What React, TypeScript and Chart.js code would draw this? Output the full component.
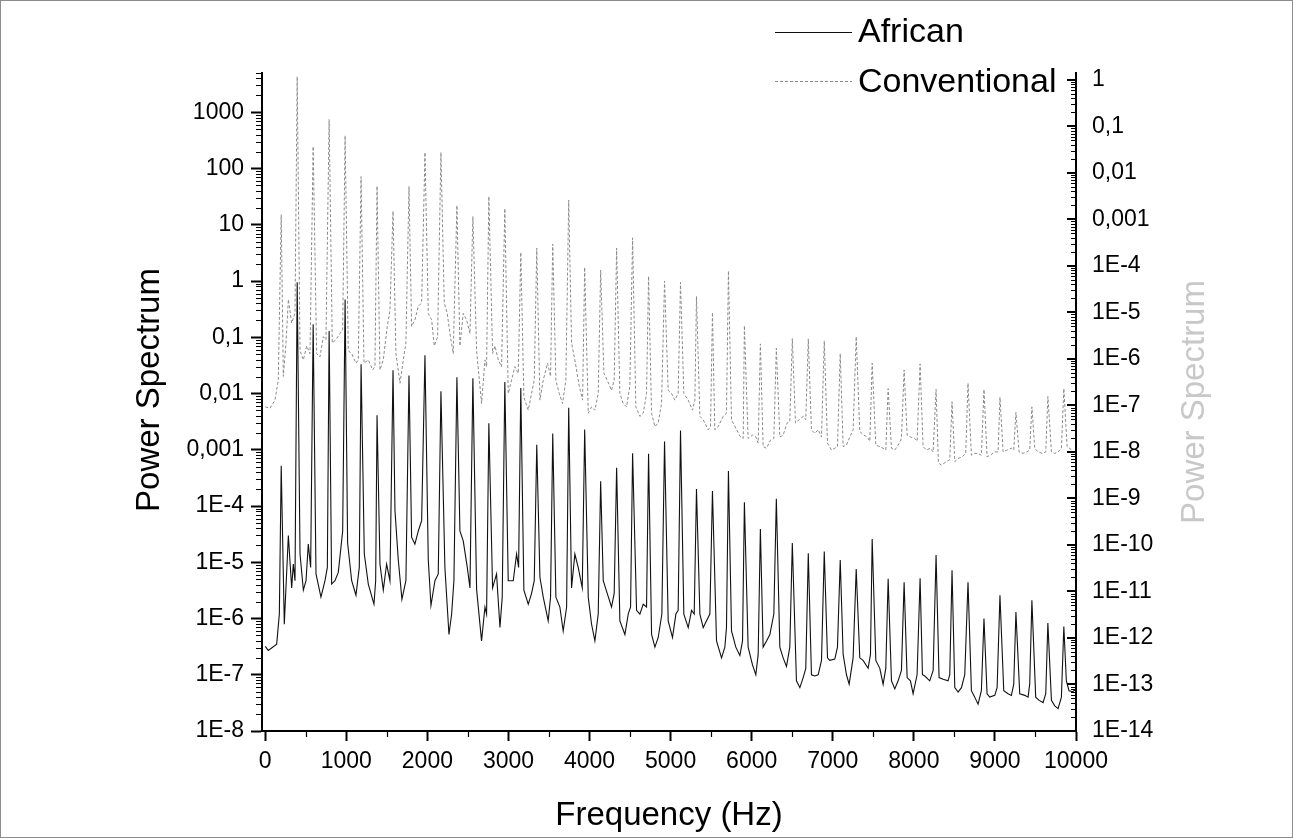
import React, { useEffect, useRef } from "react";
import { Chart, registerables } from "chart.js";

Chart.register(...registerables);

// ---------- data ----------
const seriesNames = ["African", "Conventional"];

// harmonic peak frequencies (Hz)
const harmonicHz = [
  197, 394, 591, 788, 985, 1182, 1379, 1576, 1773, 1970,
  2167, 2364, 2561, 2758, 2955, 3152, 3349, 3546, 3743, 3940,
  4137, 4334, 4531, 4728, 4925, 5122, 5319, 5516, 5713, 5910,
  6107, 6304, 6501, 6698, 6895, 7092, 7289, 7486, 7683, 7880,
  8077, 8274, 8471, 8668, 8865, 9062, 9259, 9456, 9653, 9850,
];

// African peak heights (left axis)
const africanPeaks = [
  5.2e-4, 0.95, 0.17, 0.13, 0.47, 0.033, 4.1e-3, 0.026, 0.021, 0.048,
  0.011, 0.0195, 0.0186, 2.95e-3, 0.016, 0.0126, 1.23e-3, 1.95e-3, 5.6e-3, 2.3e-3,
  2.75e-4, 4.8e-4, 8.7e-4, 8.5e-4, 1.4e-3, 2.2e-3, 2.0e-4, 1.85e-4, 4.2e-4, 1.17e-4,
  3.9e-5, 1.35e-4, 2.2e-5, 1.45e-5, 1.55e-5, 1.1e-5, 7.6e-6, 2.6e-5, 5.1e-6, 4.4e-6,
  5.2e-6, 1.35e-5, 7.2e-6, 4.4e-6, 1.0e-6, 2.6e-6, 1.3e-6, 2.1e-6, 8.3e-7, 7.2e-7,
];

// African background between harmonics [Hz, value]
const africanFloor: [number, number][] = [
  [0, 3.2e-7], [38, 2.7e-7], [141, 3.5e-7], [174, 1.2e-6],
  [235, 7.9e-7], [285, 3.0e-5], [326, 3.5e-6], [346, 9.3e-6], [367, 4.7e-6],
  [429, 1.4e-5], [470, 3.2e-6], [503, 4.7e-6], [531, 2.1e-5], [560, 8.1e-6],
  [626, 6.2e-6], [687, 2.4e-6], [737, 4.7e-6], [766, 8.1e-6],
  [819, 4.1e-6], [860, 4.7e-6], [901, 6.6e-6], [955, 3.6e-5],
  [1016, 2.2e-5], [1066, 4.7e-6], [1119, 2.6e-6], [1160, 8.1e-6],
  [1222, 1.4e-5], [1271, 4.1e-6], [1341, 1.8e-6], [1362, 4.7e-6],
  [1415, 9.3e-6], [1456, 3.2e-6], [1497, 9.3e-6], [1538, 4.7e-6],
  [1600, 8.3e-5], [1641, 1.1e-5], [1686, 2.2e-6], [1735, 4.7e-6],
  [1805, 2.8e-5], [1846, 2.1e-5], [1888, 3.6e-5], [1929, 5.5e-5],
  [2011, 1.1e-5], [2044, 1.7e-6], [2093, 4.7e-6], [2134, 6.2e-6],
  [2216, 8.1e-6], [2266, 5.2e-7], [2299, 1.2e-6], [2327, 4.7e-6],
  [2401, 3.6e-5], [2442, 2.4e-5], [2492, 8.1e-6], [2525, 3.5e-6],
  [2607, 3.3e-6], [2668, 4.0e-7], [2710, 1.6e-6], [2730, 1.2e-6],
  [2804, 3.5e-6], [2853, 6.2e-6], [2895, 6.9e-7], [2923, 2.4e-6],
  [2997, 4.7e-6], [3059, 4.7e-6], [3100, 1.4e-5], [3125, 8.1e-6],
  [3190, 3.2e-6], [3244, 1.8e-6], [3285, 2.8e-6], [3318, 4.7e-6],
  [3388, 5.4e-6], [3429, 2.4e-6], [3490, 9.1e-7], [3519, 2.4e-6],
  [3585, 2.4e-6], [3634, 1.6e-6], [3675, 6.0e-7], [3717, 1.6e-6],
  [3778, 3.5e-6], [3819, 1.4e-5], [3860, 8.1e-6], [3910, 3.5e-6],
  [3984, 2.4e-6], [4025, 7.9e-7], [4066, 4.0e-7], [4107, 1.2e-6],
  [4169, 4.7e-6], [4218, 2.8e-6], [4271, 1.6e-6], [4304, 2.8e-6],
  [4374, 9.1e-7], [4436, 5.2e-7], [4477, 1.2e-6], [4506, 1.6e-6],
  [4580, 1.4e-6], [4621, 1.2e-6], [4662, 1.8e-6], [4703, 1.6e-6],
  [4765, 5.2e-7], [4806, 3.1e-7], [4847, 4.6e-7], [4892, 1.2e-6],
  [4970, 9.1e-7], [5023, 4.6e-7], [5065, 1.2e-6], [5093, 1.4e-6],
  [5163, 1.2e-6], [5217, 6.9e-7], [5258, 1.4e-6], [5291, 1.2e-6],
  [5361, 1.2e-6], [5402, 6.9e-7], [5443, 9.1e-7], [5484, 1.2e-6],
  [5566, 4.0e-7], [5628, 2.0e-7], [5669, 3.1e-7], [5689, 6.9e-7],
  [5751, 6.0e-7], [5804, 3.1e-7], [5854, 2.2e-7], [5887, 4.0e-7],
  [5956, 3.1e-7], [6010, 1.5e-7], [6051, 1.0e-7], [6080, 2.3e-7],
  [6141, 3.1e-7], [6183, 4.0e-7], [6224, 5.2e-7], [6273, 1.2e-6],
  [6347, 3.1e-7], [6388, 2.0e-7], [6429, 1.4e-7], [6470, 3.1e-7],
  [6552, 7.8e-8], [6594, 5.9e-8], [6635, 8.9e-8], [6667, 1.3e-7],
  [6737, 1.0e-7], [6778, 9.5e-8], [6820, 1.0e-7], [6861, 1.8e-7],
  [6935, 2.0e-7], [6963, 1.8e-7], [7025, 1.9e-7], [7058, 3.1e-7],
  [7128, 2.3e-7], [7169, 1.0e-7], [7202, 6.8e-8], [7251, 2.0e-7],
  [7333, 2.0e-7], [7374, 1.8e-7], [7436, 1.3e-7], [7465, 2.3e-7],
  [7531, 1.8e-7], [7580, 1.3e-7], [7621, 6.8e-8], [7654, 1.3e-7],
  [7724, 7.8e-8], [7765, 5.6e-8], [7806, 7.8e-8], [7847, 1.2e-7],
  [7917, 8.9e-8], [7958, 7.8e-8], [7991, 4.6e-8], [8040, 1.0e-7],
  [8106, 1.0e-7], [8135, 9.5e-8], [8196, 7.8e-8], [8238, 1.2e-7],
  [8311, 8.9e-8], [8361, 8.3e-8], [8422, 7.8e-8], [8443, 1.0e-7],
  [8505, 5.9e-8], [8546, 4.9e-8], [8587, 5.9e-8], [8628, 1.0e-7],
  [8710, 5.2e-8], [8751, 4.0e-8], [8792, 3.0e-8], [8833, 5.2e-8],
  [8903, 4.6e-8], [8936, 4.0e-8], [8998, 4.3e-8], [9027, 5.9e-8],
  [9109, 5.2e-8], [9162, 4.6e-8], [9203, 4.3e-8], [9232, 6.8e-8],
  [9306, 4.6e-8], [9368, 4.3e-8], [9409, 4.0e-8], [9429, 6.8e-8],
  [9503, 4.0e-8], [9545, 3.5e-8], [9594, 3.2e-8], [9627, 4.6e-8],
  [9697, 3.5e-8], [9738, 2.8e-8], [9779, 2.5e-8], [9820, 4.0e-8],
  [9881, 7.8e-8], [9914, 5.2e-8], [9960, 5.0e-8], [10000, 5.6e-8],
];

// Conventional peak heights (right axis)
const conventionalPeaks = [
  1.26e-3, 1.17, 3.7e-2, 0.14, 6.3e-2, 8.3e-3, 5.2e-3, 1.5e-3, 5.1e-3, 2.75e-2,
  2.75e-2, 2.0e-3, 1.15e-3, 3.1e-3, 1.7e-3, 1.95e-4, 2.4e-4, 2.95e-4, 2.6e-3, 9.3e-5,
  8.1e-5, 2.4e-4, 4.0e-4, 6.0e-5, 4.7e-5, 4.4e-5, 2.2e-5, 1.0e-5, 7.8e-5, 5.2e-6,
  2.1e-6, 1.7e-6, 2.75e-6, 2.7e-6, 2.45e-6, 1.3e-6, 3.0e-6, 8.1e-7, 2.3e-7, 5.8e-7,
  7.8e-7, 2.2e-7, 1.2e-7, 3.0e-7, 2.2e-7, 1.5e-7, 7.1e-8, 9.3e-8, 1.55e-7, 2.3e-7,
];

// Conventional background between harmonics [Hz, value]
const conventionalFloor: [number, number][] = [
  [0, 9.3e-8], [59, 8.7e-8], [120, 1.3e-7], [161, 3.5e-7],
  [223, 4.2e-7], [256, 2.2e-6], [285, 1.9e-5], [326, 5.9e-6], [367, 9.5e-6],
  [429, 1.5e-6], [470, 9.5e-7], [511, 1.9e-6], [552, 1.3e-6],
  [634, 1.3e-6], [675, 1.1e-6], [716, 3.0e-6], [749, 2.6e-6],
  [827, 2.2e-6], [872, 2.6e-6], [922, 3.5e-6], [955, 4.2e-6],
  [1024, 1.5e-6], [1066, 1.3e-6], [1119, 8.1e-7], [1148, 9.5e-7],
  [1218, 8.1e-7], [1271, 9.5e-7], [1325, 5.8e-7], [1353, 6.8e-7],
  [1415, 5.8e-7], [1456, 9.5e-7], [1505, 5.0e-6], [1538, 1.1e-5],
  [1612, 1.3e-6], [1662, 3.0e-7], [1703, 9.5e-7], [1735, 2.2e-6],
  [1805, 5.0e-6], [1846, 6.9e-6], [1888, 1.35e-5], [1929, 1.6e-5],
  [2011, 9.5e-6], [2052, 6.9e-6], [2085, 1.9e-6], [2126, 3.0e-6],
  [2208, 1.6e-5], [2245, 9.5e-6], [2278, 3.5e-6], [2319, 1.3e-6],
  [2401, 1.9e-6], [2442, 9.5e-6], [2484, 6.9e-6], [2525, 3.5e-6],
  [2607, 1.5e-6], [2668, 1.1e-7], [2710, 9.5e-7], [2730, 6.8e-7],
  [2804, 1.3e-6], [2833, 1.9e-6], [2874, 9.5e-7], [2915, 6.8e-7],
  [2997, 1.8e-7], [3038, 3.5e-7], [3079, 6.8e-7], [3121, 4.9e-7],
  [3190, 1.5e-7], [3244, 7.9e-8], [3285, 1.8e-7], [3318, 3.5e-7],
  [3388, 1.3e-7], [3429, 3.5e-7], [3482, 8.1e-7], [3519, 4.2e-7],
  [3585, 3.5e-7], [3626, 1.8e-7], [3667, 1.1e-7], [3708, 3.5e-7],
  [3778, 2.2e-6], [3819, 9.5e-7], [3873, 2.6e-7], [3914, 1.3e-7],
  [3984, 6.8e-8], [4025, 9.3e-8], [4066, 7.9e-8], [4107, 1.8e-7],
  [4177, 4.9e-7], [4218, 3.5e-7], [4271, 2.1e-7], [4304, 3.5e-7],
  [4374, 1.8e-7], [4415, 1.1e-7], [4456, 9.3e-8], [4497, 2.6e-7],
  [4571, 9.3e-8], [4621, 5.8e-8], [4662, 6.8e-8], [4703, 1.8e-7],
  [4765, 6.8e-8], [4806, 3.5e-8], [4847, 4.2e-8], [4888, 1.1e-7],
  [4970, 2.1e-7], [5011, 1.8e-7], [5052, 1.3e-7], [5093, 1.8e-7],
  [5163, 1.8e-7], [5217, 1.3e-7], [5270, 7.9e-8], [5299, 1.3e-7],
  [5361, 5.8e-8], [5402, 4.9e-8], [5463, 3.0e-8], [5492, 3.5e-8],
  [5545, 3.0e-8], [5587, 3.5e-8], [5648, 5.8e-8], [5689, 6.8e-8],
  [5751, 4.9e-8], [5813, 3.0e-8], [5862, 2.1e-8], [5895, 1.95e-8],
  [5956, 1.95e-8], [6010, 2.3e-8], [6051, 2.1e-8], [6080, 1.55e-8],
  [6141, 1.3e-8], [6183, 1.2e-8], [6232, 1.8e-8], [6273, 1.95e-8],
  [6347, 2.1e-8], [6388, 2.3e-8], [6437, 4.2e-8], [6470, 4.5e-8],
  [6540, 4.2e-8], [6585, 4.9e-8], [6635, 5.8e-8], [6667, 4.9e-8],
  [6737, 3.0e-8], [6778, 2.5e-8], [6820, 3.0e-8], [6861, 2.1e-8],
  [6935, 1.55e-8], [6984, 1.1e-8], [7025, 1.2e-8], [7058, 1.3e-8],
  [7128, 1.3e-8], [7169, 1.4e-8], [7210, 2.1e-8], [7251, 3.0e-8],
  [7333, 2.75e-8], [7383, 2.3e-8], [7424, 2.1e-8], [7457, 1.7e-8],
  [7531, 1.4e-8], [7580, 1.3e-8], [7621, 1.2e-8], [7654, 1.1e-8],
  [7724, 1.2e-8], [7765, 1.1e-8], [7806, 1.4e-8], [7847, 1.95e-8],
  [7917, 2.3e-8], [7958, 2.1e-8], [8011, 1.95e-8], [8040, 1.7e-8],
  [8114, 1.3e-8], [8155, 1.1e-8], [8205, 1.2e-8], [8238, 1.0e-8],
  [8303, 5.8e-9], [8340, 5.2e-9], [8402, 6.2e-9], [8443, 6.8e-9],
  [8505, 6.2e-9], [8546, 7.2e-9], [8599, 7.9e-9], [8640, 9.3e-9],
  [8710, 8.5e-9], [8751, 9.3e-9], [8792, 9.3e-9], [8833, 8.5e-9],
  [8903, 7.9e-9], [8944, 8.5e-9], [8998, 1.0e-8], [9039, 1.0e-8],
  [9101, 1.0e-8], [9150, 1.1e-8], [9203, 1.2e-8], [9232, 1.1e-8],
  [9298, 1.0e-8], [9347, 9.3e-9], [9396, 1.0e-8], [9429, 1.1e-8],
  [9491, 1.2e-8], [9532, 1.0e-8], [9586, 9.3e-9], [9627, 1.0e-8],
  [9697, 1.0e-8], [9738, 9.3e-9], [9779, 1.0e-8], [9820, 1.2e-8],
  [9890, 1.3e-8], [9950, 1.1e-8],
];

// axis ticks
const xTickValues = [0, 1000, 2000, 3000, 4000, 5000, 6000, 7000, 8000, 9000, 10000];
const xMinorTickValues = [500, 1500, 2500, 3500, 4500, 5500, 6500, 7500, 8500, 9500];
const leftTickValues = [1e-8, 1e-7, 1e-6, 1e-5, 1e-4, 1e-3, 1e-2, 1e-1, 1, 10, 100, 1000];
const leftTickLabels = ["1E-8", "1E-7", "1E-6", "1E-5", "1E-4", "0,001", "0,01", "0,1", "1", "10", "100", "1000"];
const rightTickValues = [1e-14, 1e-13, 1e-12, 1e-11, 1e-10, 1e-9, 1e-8, 1e-7, 1e-6, 1e-5, 1e-4, 1e-3, 1e-2, 1e-1, 1];
const rightTickLabels = ["1E-14", "1E-13", "1E-12", "1E-11", "1E-10", "1E-9", "1E-8", "1E-7", "1E-6", "1E-5", "1E-4", "0,001", "0,01", "0,1", "1"];

// ---------- layout / style ----------
const W = 1293;
const H = 838;
const PLOT = { left: 262, right: 1076, top: 73, bottom: 731 };
const FONT = "'Liberation Sans', Arial, sans-serif";
const AFRICAN_COLOR = "#111111";
const CONV_COLOR = "#8a8a8a";
const RIGHT_TITLE_COLOR = "#c8c8c8";
const CONV_DASH = [3, 2];

function mergeSeries(peakHz: number[], peaks: number[], floor: [number, number][]) {
  const pts = floor.map(([x, y]) => ({ x, y }));
  peakHz.forEach((x, i) => pts.push({ x, y: peaks[i] }));
  pts.sort((a, b) => a.x - b.x);
  return pts;
}

const decorPlugin = {
  id: "decor",
  afterDraw(chart: any) {
    const ctx = chart.ctx as CanvasRenderingContext2D;
    const xs = chart.scales.x;
    const yl = chart.scales.y;
    const yr = chart.scales.y1;
    const area = chart.chartArea;
    ctx.save();
    ctx.strokeStyle = "#000";
    // minor ticks left (outward)
    ctx.lineWidth = 1.2;
    ctx.beginPath();
    for (let k = -8; k <= 3; k++) {
      for (let m = 2; m <= 9; m++) {
        const v = m * Math.pow(10, k);
        if (v < yl.min || v > yl.max) continue;
        const py = Math.round(yl.getPixelForValue(v)) + 0.5;
        ctx.moveTo(area.left - 6, py);
        ctx.lineTo(area.left, py);
      }
    }
    // minor ticks right (inward)
    for (let k = -14; k <= 0; k++) {
      for (let m = 2; m <= 9; m++) {
        const v = m * Math.pow(10, k);
        if (v < yr.min || v > yr.max) continue;
        const py = Math.round(yr.getPixelForValue(v)) + 0.5;
        ctx.moveTo(area.right - 5, py);
        ctx.lineTo(area.right, py);
      }
    }
    // minor ticks x (outward)
    xMinorTickValues.forEach((v) => {
      const px = Math.round(xs.getPixelForValue(v)) + 0.5;
      ctx.moveTo(px, area.bottom);
      ctx.lineTo(px, area.bottom + 6);
    });
    ctx.stroke();
    // major ticks right (inward)
    ctx.lineWidth = 2;
    ctx.beginPath();
    rightTickValues.forEach((v) => {
      const py = Math.round(yr.getPixelForValue(v));
      ctx.moveTo(area.right - 9, py);
      ctx.lineTo(area.right, py);
    });
    ctx.stroke();

    // axis titles
    ctx.fillStyle = "#000";
    ctx.font = `33px ${FONT}`;
    ctx.textAlign = "center";
    ctx.textBaseline = "middle";
    ctx.fillText("Frequency (Hz)", (area.left + area.right) / 2, 816);
    const midY = (area.top + area.bottom) / 2;
    ctx.save();
    ctx.translate(150, midY - 12);
    ctx.rotate(-Math.PI / 2);
    ctx.fillText("Power Spectrum", 0, 0);
    ctx.restore();
    ctx.save();
    ctx.translate(1195, midY);
    ctx.rotate(-Math.PI / 2);
    ctx.fillStyle = RIGHT_TITLE_COLOR;
    ctx.fillText("Power Spectrum", 0, 0);
    ctx.restore();

    // legend
    ctx.font = `34px ${FONT}`;
    ctx.textAlign = "left";
    ctx.textBaseline = "middle";
    ctx.lineWidth = 1;
    ctx.strokeStyle = AFRICAN_COLOR;
    ctx.beginPath();
    ctx.moveTo(775, 32.5);
    ctx.lineTo(852, 32.5);
    ctx.stroke();
    ctx.fillStyle = "#000";
    ctx.fillText(seriesNames[0], 858, 33);
    ctx.strokeStyle = CONV_COLOR;
    ctx.setLineDash(CONV_DASH);
    ctx.beginPath();
    ctx.moveTo(775, 81.5);
    ctx.lineTo(852, 81.5);
    ctx.stroke();
    ctx.setLineDash([]);
    ctx.fillText(seriesNames[1], 858, 83);

    // image frame
    ctx.strokeStyle = "#8c8c8c";
    ctx.lineWidth = 1;
    ctx.strokeRect(0.5, 0.5, W - 1, H - 1);
    ctx.restore();
  },
};

export default function App() {
  const canvasRef = useRef<HTMLCanvasElement | null>(null);

  useEffect(() => {
    if (!canvasRef.current) return;
    const tickFont = { family: FONT, size: 23 };
    const chart = new Chart(canvasRef.current, {
      type: "line",
      data: {
        datasets: [
          {
            label: seriesNames[0],
            data: mergeSeries(harmonicHz, africanPeaks, africanFloor),
            borderColor: AFRICAN_COLOR,
            borderWidth: 1.1,
            pointRadius: 0,
            tension: 0,
            yAxisID: "y",
          },
          {
            label: seriesNames[1],
            data: mergeSeries(harmonicHz, conventionalPeaks, conventionalFloor),
            borderColor: CONV_COLOR,
            borderWidth: 1,
            borderDash: CONV_DASH,
            pointRadius: 0,
            tension: 0,
            yAxisID: "y1",
          },
        ],
      },
      options: {
        animation: false,
        responsive: false,
        devicePixelRatio: 1,
        layout: { padding: { top: PLOT.top, left: 0, right: 0, bottom: 0 } },
        plugins: {
          legend: { display: false },
          tooltip: { enabled: false },
          title: { display: false },
        },
        scales: {
          x: {
            type: "linear",
            min: -40,
            max: 10000,
            afterBuildTicks: (s: any) => {
              s.ticks = xTickValues.map((v) => ({ value: v }));
            },
            afterFit: (s: any) => {
              s.height = H - PLOT.bottom;
            },
            ticks: {
              font: tickFont,
              color: "#000",
              padding: 7,
              maxRotation: 0,
              autoSkip: false,
              callback: (v: any) => String(v),
            },
            grid: {
              drawOnChartArea: false,
              drawTicks: true,
              tickLength: 10,
              tickWidth: 2,
              tickColor: "#000",
            },
            border: { display: true, color: "#000", width: 2 },
          },
          y: {
            type: "logarithmic",
            position: "left",
            min: 1e-8,
            max: 5000,
            afterBuildTicks: (s: any) => {
              s.ticks = leftTickValues.map((v) => ({ value: v }));
            },
            afterFit: (s: any) => {
              s.width = PLOT.left;
            },
            ticks: {
              font: tickFont,
              color: "#000",
              padding: 7,
              autoSkip: false,
              callback: (_v: any, i: number) => leftTickLabels[i],
            },
            grid: {
              drawOnChartArea: false,
              drawTicks: true,
              tickLength: 11,
              tickWidth: 2,
              tickColor: "#000",
            },
            border: { display: true, color: "#000", width: 2 },
          },
          y1: {
            type: "logarithmic",
            position: "right",
            min: 1e-14,
            max: 1.4,
            afterBuildTicks: (s: any) => {
              s.ticks = rightTickValues.map((v) => ({ value: v }));
            },
            afterFit: (s: any) => {
              s.width = W - PLOT.right;
            },
            ticks: {
              font: tickFont,
              color: "#000",
              padding: 16,
              autoSkip: false,
              callback: (_v: any, i: number) => rightTickLabels[i],
            },
            grid: {
              drawOnChartArea: false,
              drawTicks: false,
            },
            border: { display: true, color: "#000", width: 2 },
          },
        },
      },
      plugins: [decorPlugin],
    } as any);
    return () => chart.destroy();
  }, []);

  return (
    <div style={{ position: "fixed", left: 0, top: 0, width: W, height: H, background: "#fff" }}>
      <canvas ref={canvasRef} width={W} height={H} style={{ display: "block" }} />
    </div>
  );
}
